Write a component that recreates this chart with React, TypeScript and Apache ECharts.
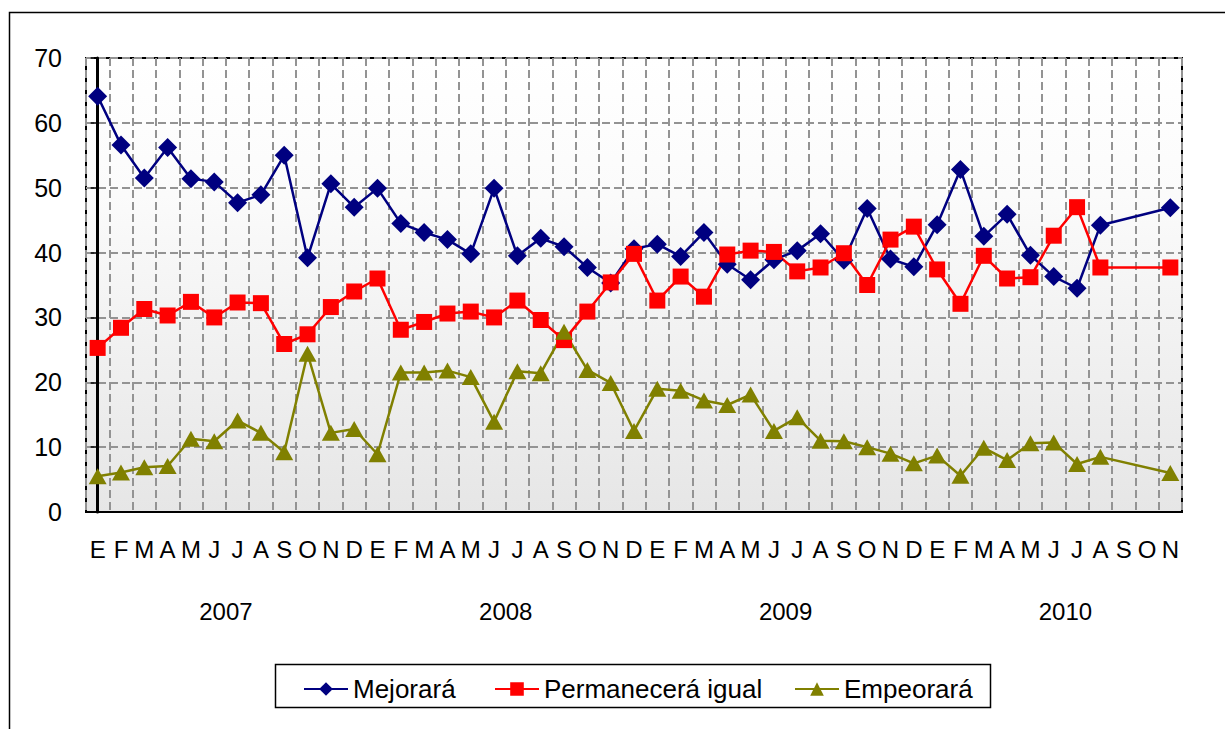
import React, { useEffect, useRef } from "react";
import * as echarts from "echarts";

const months = [
  "E","F","M","A","M","J","J","A","S","O","N","D",
  "E","F","M","A","M","J","J","A","S","O","N","D",
  "E","F","M","A","M","J","J","A","S","O","N","D",
  "E","F","M","A","M","J","J","A","S","O","N",
];
const years = ["2007", "2008", "2009", "2010"];
const yearCenters = [5.5, 17.5, 29.5, 41.5];

const mejorara = [
  64.1, 56.6, 51.5, 56.2, 51.4, 50.9, 47.7, 48.9, 55.0, 39.2, 50.6, 47.0,
  49.9, 44.5, 43.1, 42.0, 39.8, 49.9, 39.5, 42.2, 40.9, 37.7, 35.3, 40.6,
  41.3, 39.4, 43.1, 38.2, 35.8, 38.9, 40.3, 42.9, 38.8, 46.8, 39.0, 37.8,
  44.3, 52.8, 42.5, 45.9, 39.6, 36.3, 34.5, 44.2, null, null, 46.9,
];
const permanecera = [
  25.3, 28.4, 31.3, 30.3, 32.4, 30.0, 32.3, 32.2, 25.9, 27.4, 31.6, 34.0,
  36.0, 28.1, 29.3, 30.6, 30.9, 30.0, 32.6, 29.6, 26.5, 30.9, 35.4, 39.8,
  32.6, 36.3, 33.2, 39.7, 40.3, 40.1, 37.1, 37.7, 39.9, 35.0, 42.0, 44.0,
  37.4, 32.1, 39.5, 36.0, 36.2, 42.6, 47.0, 37.7, null, null, 37.7,
];
const empeorara = [
  5.5, 6.1, 6.9, 7.1, 11.3, 10.9, 14.1, 12.2, 9.2, 24.4, 12.2, 12.8,
  8.9, 21.5, 21.5, 21.8, 20.8, 13.9, 21.7, 21.4, 27.8, 21.9, 19.9, 12.5,
  19.0, 18.7, 17.2, 16.5, 18.1, 12.5, 14.6, 11.0, 10.9, 10.0, 9.0, 7.5,
  8.7, 5.6, 9.9, 8.0, 10.6, 10.7, 7.4, 8.5, null, null, 6.0,
];

const FONT = "'Liberation Sans', Arial, sans-serif";
const grid = "#939393";

export default function App() {
  const ref = useRef<HTMLDivElement>(null);
  useEffect(() => {
    const chart = echarts.init(ref.current!, null, { renderer: "svg" });
    const legendText = { fontSize: 26, color: "#000", fontFamily: FONT };
    chart.setOption({
      animation: false,
      textStyle: { fontFamily: FONT },
      grid: {
        left: 86,
        top: 58,
        right: 43,
        bottom: 217,
        show: true,
        borderColor: "#000",
        borderWidth: 2,
        backgroundColor: new echarts.graphic.LinearGradient(0, 0, 0, 1, [
          { offset: 0, color: "#ffffff" },
          { offset: 0.3, color: "#fbfbfb" },
          { offset: 1, color: "#e6e6e6" },
        ]),
      },
      graphic: [
        {
          type: "rect",
          z: -10,
          shape: { x: 9.5, y: 12.5, width: 1400, height: 1000 },
          style: { fill: "none", stroke: "#000", lineWidth: 1.5 },
        },
        {
          type: "rect",
          z: 0,
          shape: { x: 275.5, y: 664.5, width: 715, height: 43 },
          style: { fill: "#fff", stroke: "#000", lineWidth: 1.5 },
        },
      ],
      legend: [
        {
          data: ["Mejorará"], left: 298, top: 671, itemWidth: 44, itemHeight: 17,
          itemGap: 5, textStyle: legendText, z: 5,
        },
        {
          data: ["Permanecerá igual"], left: 489, top: 671, itemWidth: 44, itemHeight: 17,
          textStyle: legendText, z: 5,
        },
        {
          data: ["Empeorará"], left: 789, top: 671, itemWidth: 44, itemHeight: 17,
          textStyle: legendText, z: 5,
        },
      ],
      xAxis: [
        {
          type: "category",
          data: months,
          boundaryGap: true,
          axisLine: { show: true, lineStyle: { color: "#000", width: 2 } },
          axisTick: { show: false },
          axisLabel: { interval: 0, fontSize: 24, color: "#000", margin: 25, fontFamily: FONT },
          splitLine: {
            show: true,
            interval: 0,
            lineStyle: { color: grid, type: [8, 4], width: 2 },
          },
        },
        {
          type: "value",
          min: -0.5,
          max: 46.5,
          position: "bottom",
          axisLine: { show: false },
          axisTick: { show: false },
          splitLine: { show: false },
          axisLabel: {
            customValues: yearCenters,
            fontSize: 24,
            color: "#000",
            margin: 87,
            fontFamily: FONT,
            formatter: (v: number) => {
              const i = yearCenters.indexOf(v);
              return i >= 0 ? years[i] : "";
            },
          },
        },
      ],
      yAxis: {
        type: "value",
        min: 0,
        max: 70,
        interval: 10,
        axisLine: { show: true, lineStyle: { color: "#000", width: 3 } },
        axisTick: { show: true, length: 7, lineStyle: { color: "#000", width: 1.5 } },
        axisLabel: { fontSize: 25, color: "#000", margin: 24, fontFamily: FONT },
        splitLine: { show: true, lineStyle: { color: grid, type: [8, 4], width: 2 } },
      },
      series: [
        {
          name: "Mejorará",
          type: "line",
          data: mejorara,
          connectNulls: true,
          symbol: "diamond",
          symbolSize: 19,
          color: "#000080",
          lineStyle: { color: "#000080", width: 2.5 },
          itemStyle: { color: "#000080" },
        },
        {
          name: "Permanecerá igual",
          type: "line",
          data: permanecera,
          connectNulls: true,
          symbol: "rect",
          symbolSize: 16,
          color: "#ff0000",
          lineStyle: { color: "#ff0000", width: 2.5 },
          itemStyle: { color: "#ff0000" },
        },
        {
          name: "Empeorará",
          type: "line",
          data: empeorara,
          connectNulls: true,
          symbol: "triangle",
          symbolSize: [18, 16],
          color: "#808000",
          lineStyle: { color: "#808000", width: 2.5 },
          itemStyle: { color: "#808000" },
        },
      ],
    });
    return () => chart.dispose();
  }, []);
  return (
    <div
      ref={ref}
      style={{ position: "fixed", left: 0, top: 0, width: 1225, height: 729, background: "#fff" }}
    />
  );
}
